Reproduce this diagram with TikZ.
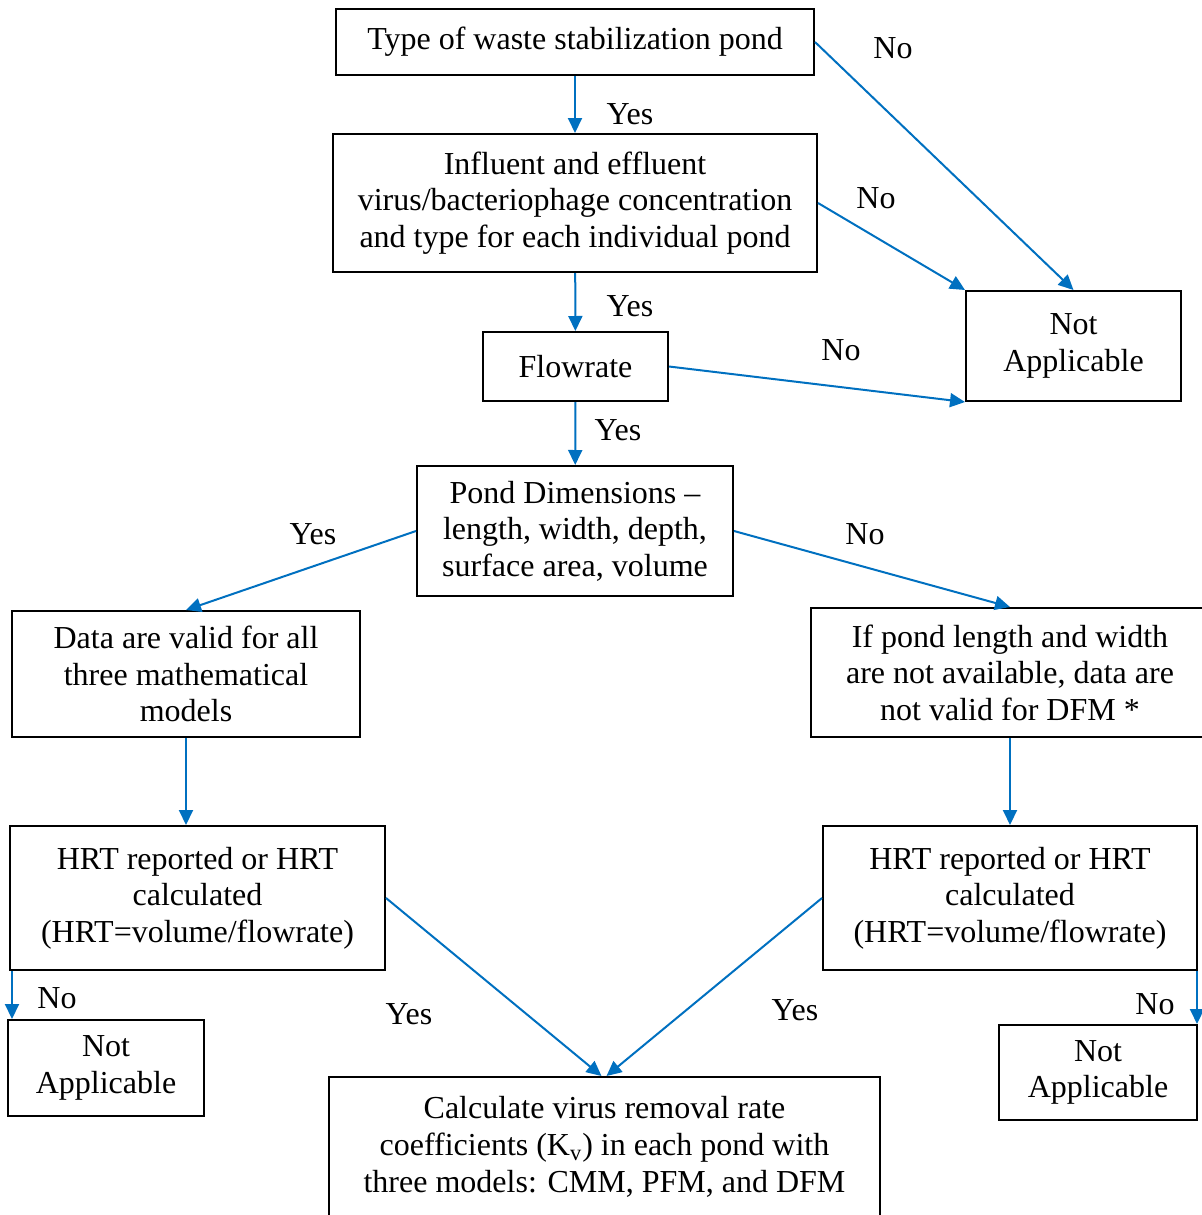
\documentclass[tikz,border=0pt]{standalone}
\usepackage{fontspec}
\setmainfont{Liberation Serif}
\usetikzlibrary{arrows.meta,calc}
\definecolor{arrowblue}{RGB}{0,112,192}
\tikzset{
  box/.style={draw=black, line width=1pt, align=center, inner sep=0pt,
    font=\fontsize{16}{18.3}\selectfont},
  lbl/.style={font=\fontsize{16}{18.3}\selectfont, inner sep=0pt},
  conn/.style={draw=arrowblue, line width=1pt, -{Triangle[length=7.5pt,width=7pt]}},
}
\begin{document}
\begin{tikzpicture}[x=0.5pt,y=-0.5pt]
\useasboundingbox (0,0) rectangle (1202,1215);
% boxes
\node[box, minimum width=239pt, minimum height=33pt] (A) at (575,42) {Type of waste stabilization pond};
\node[box, minimum width=242pt, minimum height=69pt] (B) at (575,203) {Influent and effluent\\virus/bacteriophage concentration\\and type for each individual pond};
\node[box, minimum width=92.5pt, minimum height=34.5pt] (C) at (575.5,366.5) {Flowrate};
\node[box, minimum width=107.5pt, minimum height=55pt] (NA1) at (1073.5,346) {Not\\Applicable};
\node[box, minimum width=158pt, minimum height=65pt] (D) at (575,531) {Pond Dimensions --\\length, width, depth,\\surface area, volume};
\node[box, minimum width=174pt, minimum height=63pt] (E) at (186,674) {Data are valid for all\\three mathematical\\models};
\node[box, minimum width=199pt, minimum height=64.5pt] (F) at (1010,672.5) {If pond length and width\\are not available, data are\\not valid for DFM *};
\node[box, minimum width=187.5pt, minimum height=72pt] (G) at (197.5,898) {HRT reported or HRT\\calculated\\(HRT=volume/flowrate)};
\node[box, minimum width=187pt, minimum height=72pt] (H) at (1010,898) {HRT reported or HRT\\calculated\\(HRT=volume/flowrate)};
\node[box, minimum width=98pt, minimum height=48pt] (NAL) at (106,1068) {Not\\Applicable};
\node[box, minimum width=99pt, minimum height=47.5pt] (NAR) at (1098,1072.5) {Not\\Applicable};
\node[box, minimum width=275.5pt, minimum height=74pt] (K) at (604.5,1151) {Calculate virus removal rate\\coefficients (K\textsubscript{v}) in each pond with\\three models: CMM, PFM, and DFM\\[-1.6ex]\mbox{}};
% connectors
\draw[conn] (A) -- (B);
\draw[conn] (A.east) -- (NA1.north);
\draw[conn] (B.east) -- (NA1.north west);
\draw[conn] (B) -- (C);
\draw[conn] (C.east) -- (NA1.south west);
\draw[conn] (C) -- (D);
\draw[conn] (D.west) -- (E.north);
\draw[conn] (D.east) -- (F.north);
\draw[conn] (E.south) -- (E.south |- G.north);
\draw[conn] (F) -- (H);
\draw[conn] (G.east) -- ([xshift=-1.5pt]K.north);
\draw[conn] (H.west) -- ([xshift=1pt]K.north);
\draw[conn] ([xshift=1.5pt]G.south west) -- ([xshift=1.5pt]G.south west |- NAL.north);
\draw[conn] ([xshift=-0.5pt]H.south east) -- ([xshift=-0.5pt]H.south east |- NAR.north);
% labels
\node[lbl] (l1) at (630,114) {Yes};
\node[lbl] (l2) at (893,48) {No};
\node[lbl] (l3) at (876,198) {No};
\node[lbl] (l4) at (630,306) {Yes};
\node[lbl] (l5) at (841,350) {No};
\node[lbl] (l6) at (618,430) {Yes};
\node[lbl] (l7) at (313,534) {Yes};
\node[lbl] (l8) at (865,534) {No};
\node[lbl] (l9) at (57,998) {No};
\node[lbl] (l10) at (409,1014) {Yes};
\node[lbl] (l11) at (795,1010) {Yes};
\node[lbl] (l12) at (1155,1004) {No};
\end{tikzpicture}
\end{document}
